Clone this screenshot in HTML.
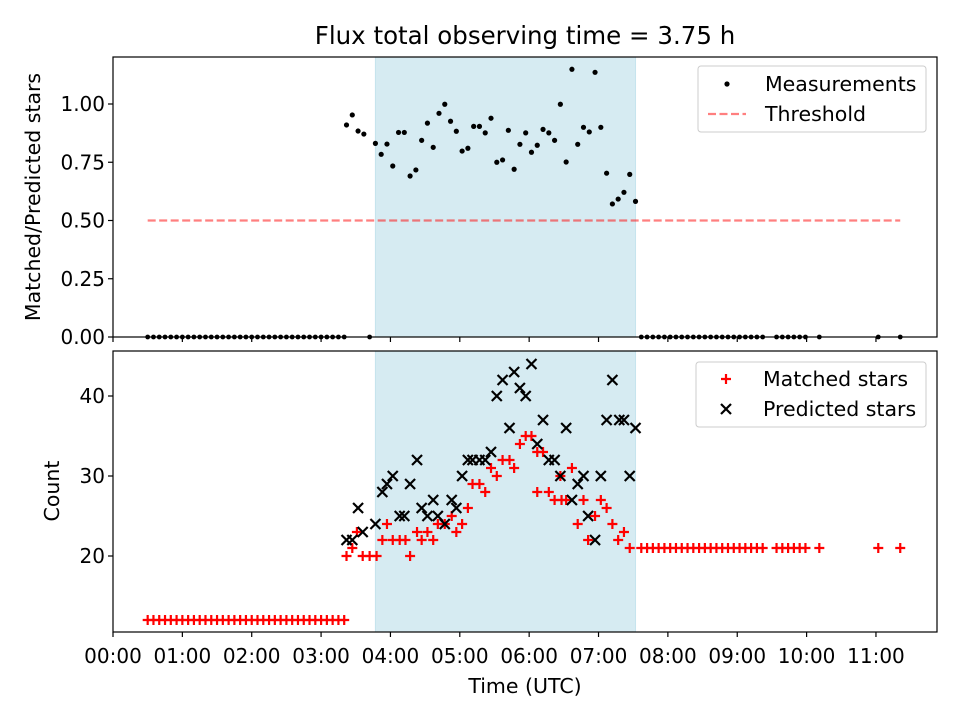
<!DOCTYPE html>
<html><head><meta charset="utf-8"><style>
body{margin:0;background:#fff;}
svg text{font-family:"DejaVu Sans","Liberation Sans",sans-serif;fill:#000;}
</style></head><body>
<svg id="chart" width="960" height="720" xmlns="http://www.w3.org/2000/svg">
<rect width="960" height="720" fill="#fff"/>
<text x="525" y="44" font-size="24.5" text-anchor="middle">Flux total observing time = 3.75 h</text>
<g id="gtop"></g><g id="gbot"></g>
</svg>
<script>
// times in minutes after 00:00 UTC
const leftTimes=[30,35,40,45,50,55,60,65,70,75,80,85,90,95,100,105,110,115,120,125,130,135,140,145,150,155,160,165,170,175,180,185,190,195,200];
const rightTimes=[457,462,467,472,477,482,487,492,497,502,507,512,517,522,527,532,537,542,547,552,557,562,574,579,584,589,594,599,611,662,681];
const measTimes=[202,207,212,217,227,232,237,242,247,252,257,262,267,272,277,282,287,292,297,302,307,312,317,322,327,332,337,342,347,352,357,362,367,372,377,382,387,392,397,402,407,412,417,422,427,432,437,442,447,452];
const measValues=[0.910,0.953,0.884,0.871,0.831,0.784,0.828,0.734,0.878,0.878,0.691,0.717,0.844,0.918,0.814,0.960,0.999,0.926,0.883,0.798,0.810,0.904,0.904,0.876,0.939,0.750,0.760,0.887,0.720,0.827,0.876,0.793,0.823,0.891,0.876,0.844,0.999,0.751,1.149,0.827,0.900,0.880,1.136,0.900,0.703,0.571,0.592,0.621,0.698,0.582];
const zeroExtraTimes=[222];
const threshold=0.5;
const matchedTimes=[202,207,211,216,222,228,233,237,242,248,253,257,263,267,272,277,281,287,293,297,302,307,311,317,322,327,332,337,343,347,352,357,362,367,372,367,377,382,387,388,397,392,407,402,417,411,422,427,432,437,442,447];
const matchedValues=[20,21,23,20,20,20,22,24,22,22,22,20,23,22,23,22,24,24,25,23,24,26,29,29,28,31,30,32,32,31,34,35,35,33,33,28,28,27,30,27,31,27,27,24,25,22,27,26,24,22,23,21];
const leftMatched=12, rightMatched=21;
const predTimes=[202,207,212,216,227,233,237,242,248,252,257,263,267,272,277,281,287,293,297,302,307,311,317,322,327,332,337,343,347,352,357,362,367,372,377,382,387,392,397,402,407,411,417,422,427,432,438,442,447,452];
const predValues=[22,22,26,23,24,28,29,30,25,25,29,32,26,25,27,25,24,27,26,30,32,32,32,32,33,40,42,36,43,41,40,44,34,37,32,32,30,36,27,29,30,25,22,30,37,42,37,37,30,36];
const xTicks=["00:00","01:00","02:00","03:00","04:00","05:00","06:00","07:00","08:00","09:00","10:00","11:00"];
const topTicks=[0,0.25,0.5,0.75,1.0];
const botTicks=[20,30,40];
const spanStart=227, spanEnd=452;

const NS="http://www.w3.org/2000/svg";
const L=113,R=937;
const x=m=>L+m/60*69.36;
const yTop=v=>337-v*233;
const yBot=v=>556-(v-20)*8;
function mk(p,tag,attrs){const e=document.createElementNS(NS,tag);for(const k in attrs)e.setAttribute(k,attrs[k]);p.appendChild(e);return e;}
const gTop=document.getElementById('gtop'), gBot=document.getElementById('gbot');

function axesFrame(g,y0,y1,name,labels){
  const s=mk(g,'rect',{x:x(spanStart),y:y0,width:x(spanEnd)-x(spanStart),height:y1-y0,fill:'#add8e6','fill-opacity':0.5,stroke:'#add8e6','stroke-opacity':0.6});
  
  
  xTicks.forEach((t,i)=>{
    const tk=mk(g,'line',{x1:x(i*60),x2:x(i*60),y1:y1,y2:y1+5,stroke:'#000','stroke-width':1.2});
    
    
    if(labels){const tx=mk(g,'text',{x:x(i*60),y:y1+31,'font-size':20,'text-anchor':'middle'});tx.textContent=t;
      
      }
  });
}
function frame(g,y0,y1,name){
  const f=mk(g,'rect',{x:L,y:y0,width:R-L,height:y1-y0,fill:'none',stroke:'#000','stroke-width':1.2});
  
  
}
// TOP
axesFrame(gTop,57,337,'top',false);
topTicks.forEach(v=>{
  const tk=mk(gTop,'line',{x1:L-5,x2:L,y1:yTop(v),y2:yTop(v),stroke:'#000','stroke-width':1.2});
  
  
  const tx=mk(gTop,'text',{x:L-8,y:yTop(v)+7,'font-size':20,'text-anchor':'end'});tx.textContent=v.toFixed(2);
  
  
});
const th=mk(gTop,'line',{x1:x(leftTimes[0]),x2:x(rightTimes[rightTimes.length-1]),y1:yTop(threshold),y2:yTop(threshold),stroke:'#ff0000','stroke-opacity':0.5,'stroke-width':2.2,'stroke-dasharray':'8,3.5'});


const zeroT=leftTimes.concat(zeroExtraTimes,rightTimes);
zeroT.forEach(t=>{const c=mk(gTop,'circle',{cx:x(t),cy:yTop(0),r:2.4,fill:'#000'});
  
  });
measTimes.forEach((t,i)=>{const c=mk(gTop,'circle',{cx:x(t),cy:yTop(measValues[i]),r:2.6,fill:'#000'});
  
  });
frame(gTop,57,337,'top');
// BOTTOM
axesFrame(gBot,351,632,'bottom',true);
botTicks.forEach(v=>{
  const tk=mk(gBot,'line',{x1:L-5,x2:L,y1:yBot(v),y2:yBot(v),stroke:'#000','stroke-width':1.2});
  
  
  const tx=mk(gBot,'text',{x:L-8,y:yBot(v)+7,'font-size':20,'text-anchor':'end'});tx.textContent=v;
  
  
});
function plus(cx,cy){const p=mk(gBot,'path',{d:`M${cx-5},${cy}H${cx+5}M${cx},${cy-5}V${cy+5}`,stroke:'#ff0000','stroke-width':2.2});
  
  }
function cross(cx,cy){const p=mk(gBot,'path',{d:`M${cx-5},${cy-5}L${cx+5},${cy+5}M${cx-5},${cy+5}L${cx+5},${cy-5}`,stroke:'#000','stroke-width':2.2});
  
  }
leftTimes.forEach(t=>plus(x(t),yBot(leftMatched)));
rightTimes.forEach(t=>plus(x(t),yBot(rightMatched)));
matchedTimes.forEach((t,i)=>plus(x(t),yBot(matchedValues[i])));
predTimes.forEach((t,i)=>cross(x(t),yBot(predValues[i])));
frame(gBot,351,632,'bottom');
</script>
<svg width="960" height="720" style="position:absolute;left:0;top:0">
<text x="40" y="197" font-size="20.5" text-anchor="middle" transform="rotate(-90 40 197)">Matched/Predicted stars</text>
<text x="59" y="491" font-size="20.5" text-anchor="middle" transform="rotate(-90 59 491)">Count</text>
<text x="525" y="693" font-size="20.5" text-anchor="middle">Time (UTC)</text>
<g>
<rect x="698" y="66" width="228" height="66" rx="3" fill="#fff" fill-opacity="0.8" stroke="#ccc"/>
<circle cx="727" cy="84" r="2.6" fill="#000"/>
<text x="765" y="91" font-size="20.5">Measurements</text>
<line x1="708" x2="746" y1="114" y2="114" stroke="#ff0000" stroke-opacity="0.5" stroke-width="2.2" stroke-dasharray="8,3.5"/>
<text x="765" y="121" font-size="20.5">Threshold</text>
</g>
<g>
<rect x="696" y="362" width="230" height="65" rx="3" fill="#fff" fill-opacity="0.8" stroke="#ccc"/>
<path d="M721,379H731M726,374V384" stroke="#ff0000" stroke-width="2.2"/>
<text x="763" y="386" font-size="20.5">Matched stars</text>
<path d="M721,404L731,414M721,414L731,404" stroke="#000" stroke-width="2.2"/>
<text x="763" y="416" font-size="20.5">Predicted stars</text>
</g>
</svg>
</body></html>
